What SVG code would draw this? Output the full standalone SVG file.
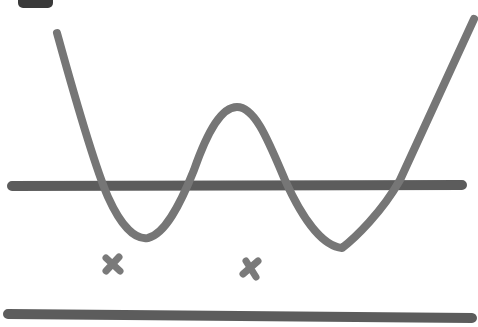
<svg xmlns="http://www.w3.org/2000/svg" width="478" height="327" viewBox="0 0 478 327">
<style>
.curve{fill:none;stroke:#767676;stroke-width:8;stroke-linecap:round;stroke-linejoin:round}
.axis{fill:none;stroke:#5c5c5c;stroke-width:10;stroke-linecap:round}
.mark{fill:none;stroke:#7a7a7a;stroke-width:7;stroke-linecap:round}
</style>
<rect width="478" height="327" fill="#ffffff"/>
<g id="corner"><rect x="18" y="-6" width="35" height="14" rx="5" fill="#3a3a3a"/></g>
<g id="axis-top"><path class="axis" d="M12,186 L462,185"/></g>
<g id="axis-bottom"><path class="axis" d="M8,314 L472,318"/></g>
<g id="curve"><path class="curve" d="M57,33 C70,80 92,160 108,197 C122,228 136,240 148,238 C165,234 180,205 194,170 C208,130 222,107 237,107 C255,107 268,140 285,180 C302,218 322,246 342,248 C355,238 382,212 400,180 L474,19"/></g>
<g id="x1"><path class="mark" d="M106,258 L120,271 M119,257 L106,271"/></g>
<g id="x2"><path class="mark" d="M243,274 L258,261 M246,261 L256,277"/></g>
</svg>
